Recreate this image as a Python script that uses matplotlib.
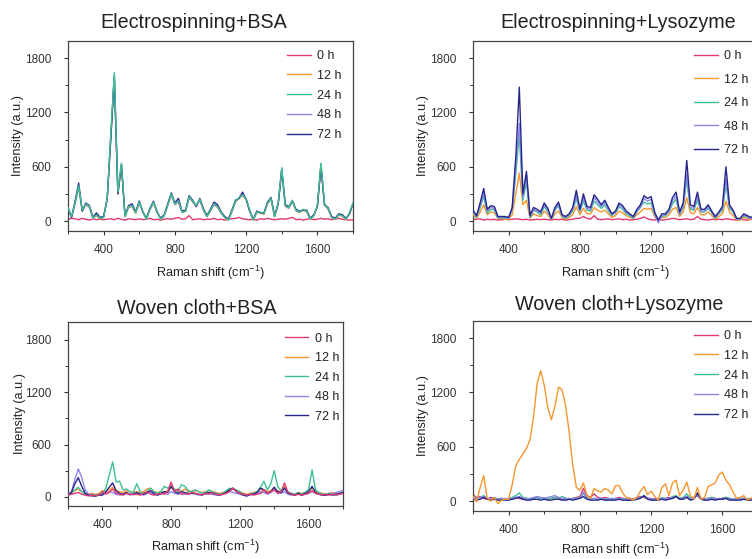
import matplotlib

matplotlib.use("Agg")
import matplotlib.pyplot as plt
import numpy as np
from matplotlib.ticker import MultipleLocator

plt.rcParams.update(
    {
        "font.family": ["Liberation Sans", "DejaVu Sans"],
        "mathtext.default": "regular",
        "text.color": "#222222",
        "axes.labelcolor": "#222222",
        "xtick.color": "#333333",
        "ytick.color": "#333333",
    }
)

# %% Data (20 cm-1 steps from 200 to 1800)

shift = np.arange(200, 1801, 20)
hours = ["0 h", "12 h", "24 h", "48 h", "72 h"]
colors = ["#e23a6e", "#f5962e", "#3dbf95", "#8e86ea", "#26268a"]

# Electrospinning + BSA
es_bsa_0h = [20, 30, 25, 15, 30, 20, 10, 25, 15, 20,
             15, 20, 25, 15, 30, 20, 10, 25, 20, 15,
             25, 15, 20, 30, 15, 20, 10, 20, 25, 20,
             30, 40, 20, 25, 60, 15, 20, 25, 15, 20,
             20, 30, 15, 20, 10, 20, 25, 30, 40, 25,
             20, 15, 20, 10, 25, 20, 30, 20, 15, 20,
             25, 20, 30, 40, 15, 20, 10, 20, 25, 15,
             20, 30, 20, 25, 15, 20, 30, 20, 15, 10,
             15]
es_bsa_12h = [140, 45, 195, 370, 110, 180, 150, 30, 60, 25,
              40, 240, 920, 1590, 300, 620, 50, 150, 160, 85,
              200, 100, 20, 125, 200, 100, 20, 55, 170, 290,
              180, 210, 95, 105, 260, 210, 160, 230, 120, 45,
              110, 180, 150, 85, 35, 10, 100, 210, 250, 280,
              240, 110, 10, 95, 90, 75, 190, 240, 45, 190,
              570, 160, 140, 220, 110, 95, 120, 100, 20, 55,
              160, 620, 180, 130, 35, 20, 65, 55, 15, 80,
              190]
es_bsa_24h = [150, 50, 200, 390, 120, 190, 160, 30, 70, 30,
              40, 250, 950, 1640, 320, 640, 50, 160, 170, 90,
              210, 110, 20, 130, 210, 110, 20, 60, 180, 300,
              190, 220, 100, 110, 270, 220, 170, 240, 130, 50,
              120, 190, 160, 90, 40, 10, 110, 220, 260, 290,
              250, 120, 10, 100, 100, 80, 200, 250, 50, 200,
              590, 170, 150, 230, 120, 100, 130, 110, 20, 60,
              170, 640, 190, 140, 40, 20, 70, 60, 20, 90,
              200]
es_bsa_48h = [145, 45, 205, 380, 115, 185, 155, 35, 65, 30,
              45, 245, 930, 1610, 310, 630, 55, 155, 165, 95,
              205, 105, 25, 130, 205, 105, 25, 60, 175, 295,
              185, 215, 100, 110, 265, 215, 165, 235, 125, 50,
              115, 185, 155, 90, 40, 15, 105, 215, 255, 285,
              245, 115, 15, 100, 95, 80, 195, 245, 50, 195,
              580, 165, 145, 225, 115, 100, 125, 105, 25, 60,
              165, 630, 185, 135, 40, 25, 70, 60, 20, 85,
              195]
es_bsa_72h = [140, 40, 220, 420, 110, 200, 170, 40, 90, 40,
              50, 240, 900, 1600, 300, 620, 60, 170, 190, 100,
              220, 100, 30, 140, 220, 100, 30, 70, 190, 310,
              200, 250, 110, 120, 280, 230, 160, 250, 140, 60,
              130, 210, 180, 100, 50, 20, 120, 230, 250, 320,
              240, 110, 20, 110, 90, 90, 210, 260, 60, 190,
              560, 180, 160, 220, 130, 110, 120, 120, 30, 70,
              160, 600, 180, 150, 50, 30, 80, 70, 30, 80,
              190]

# Electrospinning + Lysozyme
es_lys_0h = [15, 20, 25, 10, 20, 15, 20, 10, 15, 20,
             15, 20, 25, 20, 15, 20, 10, 15, 20, 15,
             20, 15, 10, 20, 15, 20, 10, 15, 20, 30,
             30, 50, 30, 20, 60, 20, 15, 20, 25, 15,
             20, 25, 15, 20, 10, 15, 20, 30, 45, 25,
             15, 10, 20, 10, 15, 20, 30, 25, 15, 20,
             25, 15, 20, 50, 20, 15, 10, 20, 15, 20,
             15, 25, 20, 15, 10, 20, 15, 10, 20, 15,
             10]
es_lys_12h = [70, 30, 100, 180, 70, 100, 90, 30, 30, 20,
              20, 70, 300, 530, 180, 230, 30, 80, 60, 50,
              110, 70, 10, 80, 110, 40, 20, 40, 70, 160,
              70, 140, 80, 80, 150, 120, 100, 120, 80, 40,
              60, 110, 90, 60, 40, 30, 70, 100, 140, 130,
              140, 50, 0, 40, 40, 70, 130, 150, 50, 100,
              260, 90, 80, 150, 70, 70, 100, 60, 20, 50,
              80, 220, 100, 60, 10, 10, 40, 30, 20, 30,
              50]
es_lys_24h = [100, 40, 150, 270, 90, 130, 120, 30, 40, 30,
              30, 120, 520, 960, 230, 430, 40, 120, 100, 70,
              160, 100, 20, 120, 170, 50, 30, 60, 110, 250,
              100, 220, 120, 110, 220, 180, 140, 180, 110, 60,
              90, 160, 130, 80, 60, 30, 100, 150, 210, 190,
              200, 70, 0, 50, 60, 100, 190, 240, 70, 150,
              460, 130, 120, 230, 100, 100, 140, 90, 30, 80,
              120, 400, 140, 100, 20, 20, 60, 40, 30, 40,
              80]
es_lys_48h = [110, 50, 170, 310, 110, 150, 140, 40, 50, 40,
              30, 130, 600, 1080, 260, 500, 50, 130, 110, 90,
              180, 120, 20, 130, 190, 60, 40, 70, 130, 290,
              110, 260, 140, 130, 260, 210, 160, 210, 130, 70,
              100, 180, 150, 100, 70, 40, 110, 160, 250, 220,
              240, 80, -20, 60, 70, 110, 220, 280, 80, 170,
              520, 150, 140, 270, 110, 110, 160, 100, 40, 90,
              140, 470, 160, 110, 20, 20, 70, 50, 30, 50,
              90]
es_lys_72h = [120, 60, 200, 360, 130, 170, 160, 50, 50, 50,
              40, 150, 700, 1480, 300, 550, 60, 150, 130, 100,
              200, 140, 30, 150, 210, 70, 50, 80, 150, 340,
              130, 300, 160, 150, 290, 240, 180, 230, 150, 80,
              110, 200, 170, 110, 80, 50, 130, 180, 280, 250,
              270, 100, 10, 80, 80, 130, 260, 320, 100, 200,
              670, 180, 160, 320, 130, 130, 180, 110, 50, 100,
              160, 600, 180, 120, 30, 30, 80, 60, 40, 60,
              100]

# Woven cloth + BSA
wc_bsa_0h = [20, 30, 40, 50, 30, 20, 10, 20, 15, 20,
             60, 30, 50, 90, 40, 30, 20, 40, 30, 25,
             30, 20, 40, 60, 30, 20, 30, 40, 30, 60,
             170, 60, 90, 30, 40, 30, 50, 40, 30, 20,
             40, 30, 50, 30, 20, 30, 40, 60, 100, 60,
             40, 30, 20, 30, 20, 30, 40, 80, 40, 60,
             80, 40, 60, 160, 50, 30, 20, 30, 20, 30,
             40, 70, 40, 30, 20, 30, 20, 30, 20, 30,
             40]
wc_bsa_12h = [30, 50, 70, 90, 60, 40, 30, 40, 30, 40,
              70, 60, 80, 110, 70, 60, 50, 70, 60, 50,
              60, 50, 60, 90, 100, 60, 50, 60, 50, 70,
              110, 80, 70, 60, 90, 60, 60, 70, 60, 50,
              60, 70, 60, 50, 40, 50, 60, 80, 90, 70,
              60, 40, 30, 40, 50, 60, 90, 80, 60, 70,
              100, 60, 70, 120, 50, 40, 30, 50, 40, 50,
              60, 100, 60, 50, 40, 30, 40, 50, 30, 40,
              50]
wc_bsa_24h = [20, 40, 80, 110, 60, 30, 20, 30, 20, 30,
              40, 100, 250, 400, 170, 180, 80, 90, 60, 50,
              150, 60, 40, 60, 100, 60, 40, 60, 120, 100,
              130, 90, 60, 140, 120, 70, 60, 80, 60, 40,
              50, 80, 60, 40, 30, 40, 70, 100, 90, 80,
              60, 30, 20, 30, 40, 60, 110, 180, 80, 150,
              300, 120, 70, 100, 60, 40, 30, 50, 30, 50,
              90, 310, 80, 50, 30, 30, 40, 30, 20, 30,
              40]
wc_bsa_48h = [20, 60, 200, 320, 220, 80, 30, 20, 10, 20,
              30, 40, 60, 50, 30, 20, 30, 40, 20, 30,
              40, 30, 20, 40, 50, 30, 20, 30, 40, 30,
              60, 40, 30, 40, 30, 30, 40, 30, 20, 30,
              30, 40, 30, 20, 20, 30, 40, 60, 50, 40,
              30, 20, 10, 20, 30, 40, 60, 50, 30, 50,
              80, 40, 40, 60, 30, 20, 20, 30, 20, 30,
              40, 60, 40, 30, 20, 20, 30, 40, 50, 60,
              70]
wc_bsa_72h = [20, 50, 150, 220, 120, 40, 20, 10, 10, 20,
              20, 60, 110, 160, 70, 40, 30, 50, 30, 30,
              50, 30, 30, 50, 70, 40, 20, 40, 60, 50,
              120, 60, 40, 60, 50, 40, 40, 40, 30, 20,
              40, 50, 40, 30, 20, 30, 50, 80, 100, 60,
              40, 20, 10, 30, 30, 50, 100, 80, 40, 60,
              110, 60, 50, 100, 40, 30, 20, 40, 20, 40,
              60, 120, 50, 30, 20, 20, 30, 20, 30, 40,
              50]

# Woven cloth + Lysozyme
wc_lys_0h = [70, 40, 50, 30, 20, 40, 30, 20, 30, 20,
             20, 30, 40, 30, 20, 30, 20, 30, 40, 30,
             30, 20, 30, 40, 30, 20, 30, 20, 30, 40,
             50, 140, 60, 40, 80, 40, 30, 40, 30, 20,
             30, 40, 30, 20, 30, 20, 40, 50, 40, 30,
             30, 20, 30, 20, 30, 40, 30, 50, 30, 40,
             50, 30, 40, 60, 30, 20, 30, 40, 30, 20,
             30, 40, 30, 20, 30, 20, 30, 20, 30, 20,
             30]
wc_lys_12h = [50, -10, 150, 280, 30, 0, 40, -30, 10, 20,
              20, 180, 390, 460, 520, 580, 680, 930, 1300, 1440,
              1280, 1030, 900, 1050, 1260, 1230, 1050, 760, 400, 150,
              120, 200, 60, 30, 140, 110, 100, 140, 120, 80,
              170, 170, 90, 40, 30, 10, 40, 110, 160, 70,
              110, 50, 10, 150, 190, 60, 200, 230, 60, 120,
              210, 60, 20, 150, 20, 40, 160, 180, 200, 290,
              320, 230, 180, 100, 30, 40, 60, 10, 30, 40,
              60]
wc_lys_24h = [50, 30, 40, 60, 30, 20, 40, 20, 30, 20,
              30, 40, 60, 90, 40, 30, 20, 30, 40, 30,
              30, 20, 30, 40, 30, 50, 30, 20, 30, 30,
              40, 80, 30, 20, 30, 20, 30, 20, 30, 20,
              30, 20, 30, 20, 10, 20, 30, 40, 60, 30,
              20, 10, 20, 40, 30, 20, 50, 60, 30, 40,
              80, 30, 30, 70, 30, 20, 30, 40, 30, 20,
              30, 40, 30, 20, 20, 30, 20, 30, 20, 30,
              20]
wc_lys_48h = [40, 30, 40, 50, 30, 20, 30, 20, 20, 30,
              20, 30, 40, 50, 30, 20, 30, 40, 50, 40,
              30, 40, 50, 60, 40, 30, 20, 30, 20, 30,
              30, 100, 40, 20, 30, 20, 30, 20, 20, 30,
              20, 30, 20, 20, 30, 20, 30, 40, 50, 30,
              20, 30, 20, 30, 20, 30, 40, 50, 20, 30,
              50, 20, 30, 60, 20, 30, 20, 30, 20, 30,
              20, 30, 20, 20, 30, 20, 30, 20, 20, 30,
              30]
wc_lys_72h = [20, 10, 20, 40, 20, 10, 20, 10, 10, 10,
              10, 20, 30, 40, 20, 10, 10, 20, 20, 10,
              20, 10, 10, 20, 20, 10, 10, 20, 10, 20,
              30, 50, 20, 10, 10, 10, 20, 10, 10, 10,
              10, 20, 10, 10, 10, 10, 20, 30, 60, 20,
              10, 10, 10, 20, 10, 20, 30, 50, 20, 20,
              40, 10, 20, 90, 20, 10, 10, 20, 10, 20,
              20, 30, 10, 10, 10, 10, 20, 10, 10, 10,
              10]

# %% Layout (pixel boxes of the reference, 752 x 559)

W, H = 752, 559


def rect(left, top, right, bottom):
    return [left / W, 1 - bottom / H, (right - left) / W, (bottom - top) / H]


panels = [
    {
        "title": "Electrospinning+BSA",
        "series": [es_bsa_0h, es_bsa_12h, es_bsa_24h, es_bsa_48h, es_bsa_72h],
        "order": [0, 1, 3, 4, 2],
        "box": rect(68, 41, 353, 231),
        "title_xy": (194, 22),
        "ylim": (-110, 1990),
        "legend_xy": (0.748, 0.985),
        "spacing": 0.62,
        "xlabel_gap": 33,
    },
    {
        "title": "Electrospinning+Lysozyme",
        "series": [es_lys_0h, es_lys_12h, es_lys_24h, es_lys_48h, es_lys_72h],
        "order": [0, 1, 2, 3, 4],
        "box": rect(473, 41, 758, 231),
        "title_xy": (618, 22),
        "ylim": (-110, 1990),
        "legend_xy": (0.755, 0.985),
        "spacing": 0.92,
        "xlabel_gap": 33,
    },
    {
        "title": "Woven cloth+BSA",
        "series": [wc_bsa_0h, wc_bsa_12h, wc_bsa_24h, wc_bsa_48h, wc_bsa_72h],
        "order": [1, 2, 3, 4, 0],
        "box": rect(68, 322, 343, 506),
        "title_xy": (197, 308),
        "ylim": (-105, 2005),
        "legend_xy": (0.765, 0.975),
        "spacing": 0.6,
        "xlabel_gap": 32,
    },
    {
        "title": "Woven cloth+Lysozyme",
        "series": [wc_lys_0h, wc_lys_12h, wc_lys_24h, wc_lys_48h, wc_lys_72h],
        "order": [0, 2, 3, 4, 1],
        "box": rect(473, 321, 758, 511),
        "title_xy": (619, 304),
        "ylim": (-110, 1990),
        "legend_xy": (0.755, 0.985),
        "spacing": 0.62,
        "xlabel_gap": 30,
    },
]

fig = plt.figure(figsize=(W / 100, H / 100), dpi=100)

for p in panels:
    ax = fig.add_axes(p["box"])
    lines = {}
    for z, i in enumerate(p["order"]):
        (ln,) = ax.plot(shift, p["series"][i], color=colors[i], lw=1.0, zorder=2 + z)
        lines[i] = ln

    ax.set_xlim(200, 1800)
    ax.set_ylim(*p["ylim"])
    ax.xaxis.set_major_locator(MultipleLocator(400))
    ax.xaxis.set_minor_locator(MultipleLocator(200))
    ax.yaxis.set_major_locator(MultipleLocator(600))
    ax.yaxis.set_minor_locator(MultipleLocator(300))
    ax.tick_params(which="major", direction="out", length=3, width=0.8, labelsize=8.5)
    ax.tick_params(axis="x", which="major", pad=6.5)
    ax.tick_params(axis="y", which="major", pad=9)
    ax.tick_params(which="minor", direction="out", length=2, width=0.7)
    for s in ax.spines.values():
        s.set_linewidth(0.9)
        s.set_color("#444444")

    ax.set_xlabel(r"Raman shift (cm$^{-1}$)", fontsize=9.2)
    ax.set_ylabel("Intensity (a.u.)", fontsize=9.2)
    box_h = p["box"][3] * H
    ax.xaxis.set_label_coords(0.5, -p["xlabel_gap"] / box_h)
    ax.yaxis.set_label_coords(-44 / 285, 0.5)

    ax.legend(
        [lines[i] for i in range(5)],
        hours,
        loc="upper left",
        bbox_to_anchor=p["legend_xy"],
        frameon=False,
        borderpad=0,
        handlelength=1.85,
        handletextpad=0.55,
        labelspacing=p["spacing"],
        fontsize=9,
    )

    tx, ty = p["title_xy"]
    fig.text(tx / W, 1 - ty / H, p["title"], ha="center", va="center", fontsize=14.2)

fig.savefig("out.png", dpi=100)
